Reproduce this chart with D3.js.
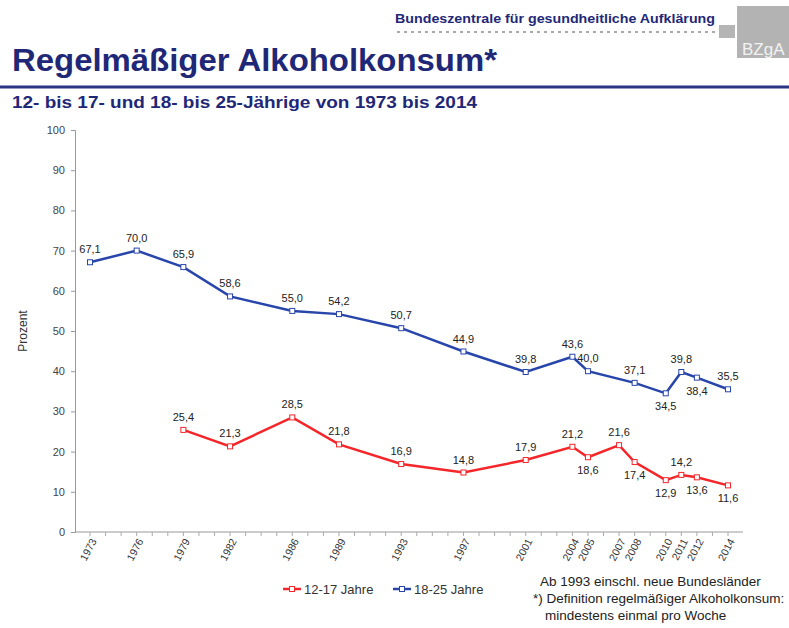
<!DOCTYPE html>
<html>
<head>
<meta charset="utf-8">
<script src="https://cdn.jsdelivr.net/npm/d3@7"></script>
<style>
  body { margin: 0; background: #fff; }
  svg { display: block; font-family: "Liberation Sans", Arial, sans-serif; }
</style>
</head>
<body>
<div id="viz"></div>
<script>
// data
const years = [1973, 1976, 1979, 1982, 1986, 1989, 1993, 1997, 2001, 2004, 2005, 2007, 2008, 2010, 2011, 2012, 2014];
const teenYears = [1979, 1982, 1986, 1989, 1993, 1997, 2001, 2004, 2005, 2007, 2008, 2010, 2011, 2012, 2014];
const teenValues = [25.4, 21.3, 28.5, 21.8, 16.9, 14.8, 17.9, 21.2, 18.6, 21.6, 17.4, 12.9, 14.2, 13.6, 11.6];
const adultYears = [1973, 1976, 1979, 1982, 1986, 1989, 1993, 1997, 2001, 2004, 2005, 2008, 2010, 2011, 2012, 2014];
const adultValues = [67.1, 70.0, 65.9, 58.6, 55.0, 54.2, 50.7, 44.9, 39.8, 43.6, 40.0, 37.1, 34.5, 39.8, 38.4, 35.5];
const yTicks = [0, 10, 20, 30, 40, 50, 60, 70, 80, 90, 100];
const seriesNames = ["12-17 Jahre", "18-25 Jahre"];
// where each value label sits: "a" above, "b" below the point
const teenLabelSide = ["a", "a", "a", "a", "a", "a", "a", "a", "b", "a", "b", "b", "a", "b", "b"];
const adultLabelSide = ["a", "a", "a", "a", "a", "a", "a", "a", "a", "a", "a", "a", "b", "a", "b", "a"];
const footnotes = ["Ab 1993 einschl. neue Bundesländer", "*) Definition regelmäßiger Alkoholkonsum:", "mindestens einmal pro Woche"];

const W = 789, H = 628;
const navy = "#1f2877";
const blue = "#2845aa";
const red = "#f4262a";

const svg = d3.select("#viz").append("svg")
  .attr("width", W)
  .attr("height", H);

// header
svg.append("text")
  .attr("x", 395).attr("y", 23)
  .attr("textLength", 320).attr("lengthAdjust", "spacingAndGlyphs")
  .style("font-size", "13px").style("font-weight", "bold")
  .style("fill", navy)
  .text("Bundeszentrale für gesundheitliche Aufklärung");

svg.append("line")
  .attr("x1", 397).attr("x2", 716).attr("y1", 32).attr("y2", 32)
  .style("stroke", "#aaa").style("stroke-width", 2)
  .style("stroke-dasharray", "3,4");

svg.append("rect")
  .attr("x", 719).attr("y", 25).attr("width", 16).attr("height", 13)
  .style("fill", "#b5b5b5");

svg.append("rect")
  .attr("x", 737).attr("y", 6).attr("width", 52).attr("height", 52)
  .style("fill", "#b3b3b3");

svg.append("text")
  .attr("x", 742).attr("y", 55)
  .style("font-size", "17px").style("fill", "#f2f2f2")
  .text("BZgA");

svg.append("text")
  .attr("x", 12).attr("y", 71)
  .attr("textLength", 485).attr("lengthAdjust", "spacingAndGlyphs")
  .style("font-size", "31px").style("font-weight", "bold")
  .style("fill", navy)
  .text("Regelmäßiger Alkoholkonsum*");

svg.append("line")
  .attr("x1", 0).attr("x2", W).attr("y1", 87).attr("y2", 87)
  .style("stroke", "#2a3585").style("stroke-width", 3);

svg.append("text")
  .attr("x", 12).attr("y", 108)
  .attr("textLength", 465).attr("lengthAdjust", "spacingAndGlyphs")
  .style("font-size", "16px").style("font-weight", "bold")
  .style("fill", navy)
  .text("12- bis 17- und 18- bis 25-Jährige von 1973 bis 2014");

// scales
const x = d3.scaleLinear().domain([1973, 2014]).range([90, 728]);
const y = d3.scaleLinear().domain([0, 100]).range([532, 130]);

// y axis
const yAxis = svg.append("g")
  .attr("transform", "translate(75,0)")
  .call(d3.axisLeft(y).tickValues(yTicks).tickSize(4).tickPadding(6));
yAxis.select(".domain").style("stroke", "#999");
yAxis.selectAll(".tick line").style("stroke", "#999");
yAxis.selectAll(".tick text")
  .style("font-size", "11px").style("fill", "#444")
  .style("font-family", "Liberation Sans, Arial, sans-serif");

svg.append("text")
  .attr("transform", "translate(27,331) rotate(-90)")
  .attr("text-anchor", "middle")
  .style("font-size", "12px").style("fill", "#333")
  .text("Prozent");

// x axis
svg.append("line")
  .attr("x1", 75).attr("x2", 743).attr("y1", 532).attr("y2", 532)
  .style("stroke", "#999");

svg.selectAll(".xtick")
  .data(d3.range(1973, 2015))
  .join("line")
  .attr("class", "xtick")
  .attr("x1", d => x(d)).attr("x2", d => x(d))
  .attr("y1", 532).attr("y2", 536)
  .style("stroke", "#aaa");

svg.selectAll(".xlabel")
  .data(years)
  .join("text")
  .attr("class", "xlabel")
  .attr("text-anchor", "end")
  .attr("transform", d => `translate(${x(d) + 7},541) rotate(-62)`)
  .style("font-size", "10.5px").style("fill", "#333")
  .text(d => d);

// series
const line = d3.line()
  .x(d => x(d.year))
  .y(d => y(d.value));

const series = [
  { name: seriesNames[0], color: red, pts: teenYears.map((yr, i) => ({ year: yr, value: teenValues[i], side: teenLabelSide[i] })) },
  { name: seriesNames[1], color: blue, pts: adultYears.map((yr, i) => ({ year: yr, value: adultValues[i], side: adultLabelSide[i] })) }
];

series.forEach(s => {
  svg.append("path")
    .datum(s.pts)
    .attr("d", line)
    .style("fill", "none")
    .style("stroke", s.color)
    .style("stroke-width", 2.5);

  svg.selectAll(null)
    .data(s.pts)
    .join("rect")
    .attr("x", d => x(d.year) - 2.5)
    .attr("y", d => y(d.value) - 2.5)
    .attr("width", 5).attr("height", 5)
    .style("fill", "#fff")
    .style("stroke", s.color)
    .style("stroke-width", 1);

  svg.selectAll(null)
    .data(s.pts)
    .join("text")
    .attr("x", d => x(d.year))
    .attr("y", d => y(d.value) + (d.side === "a" ? -9 : 17))
    .attr("text-anchor", "middle")
    .style("font-size", "11px").style("fill", "#222")
    .text(d => d3.format(".1f")(d.value).replace(".", ","));
});

// legend
const legend = svg.append("g").attr("transform", "translate(283,589)");
series.forEach((s, i) => {
  const g = legend.append("g").attr("transform", `translate(${i * 110},0)`);
  g.append("line")
    .attr("x1", 0).attr("x2", 18).attr("y1", 0).attr("y2", 0)
    .style("stroke", s.color).style("stroke-width", 2.5);
  g.append("rect")
    .attr("x", 6.5).attr("y", -2.5).attr("width", 5).attr("height", 5)
    .style("fill", "#fff").style("stroke", s.color);
  g.append("text")
    .attr("x", 21).attr("y", 4.5)
    .style("font-size", "13px").style("fill", "#333")
    .text(s.name);
});

// footnote
svg.selectAll(".foot")
  .data(footnotes)
  .join("text")
  .attr("class", "foot")
  .attr("x", (d, i) => [540, 533, 545][i])
  .attr("y", (d, i) => 586 + i * 17)
  .style("font-size", "13.5px").style("fill", "#222")
  .text(d => d);
</script>
</body>
</html>
